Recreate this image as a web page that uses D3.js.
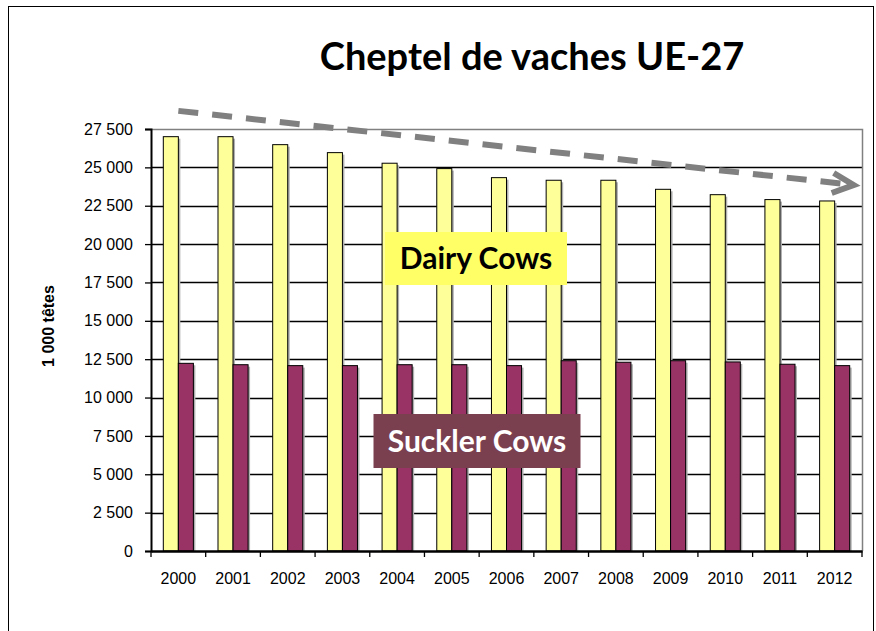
<!DOCTYPE html>
<html>
<head>
<meta charset="utf-8">
<script src="https://cdn.jsdelivr.net/npm/d3@7"></script>
<style>
  body { margin: 0; background: #fff; }
  svg { display: block; }
</style>
</head>
<body>
<svg id="chart" width="876" height="631"></svg>
<script>
// data (1 000 têtes)
var years = ["2000","2001","2002","2003","2004","2005","2006","2007","2008","2009","2010","2011","2012"];
var dairy = [27000, 27000, 26480, 25960, 25270, 24920, 24330, 24160, 24160, 23570, 23220, 22900, 22810];
var suckler = [12230, 12140, 12080, 12080, 12140, 12140, 12080, 12400, 12300, 12400, 12320, 12170, 12080];
var yTicks = d3.range(0, 27501, 2500);

var svg = d3.select("#chart");
var pLeft = 151, pRight = 862, pTop = 129, pBottom = 551;

var fr = d3.formatLocale({decimal: ",", thousands: " ", grouping: [3], currency: ["", " €"]});
var fmt = fr.format(",");

var x = d3.scaleBand().domain(years).range([pLeft, pRight]).paddingInner(0.45).paddingOuter(0.225);
var y = d3.scaleLinear().domain([0, 27500]).range([pBottom, pTop]);
var bw = x.bandwidth() / 2;

// outer frame
svg.append("rect")
    .attr("x", 8.5).attr("y", 6.5).attr("width", 865).attr("height", 640)
    .attr("fill", "#fff").attr("stroke", "#000").attr("stroke-width", 1);

// title
svg.append("text")
    .attr("x", 532).attr("y", 70)
    .attr("text-anchor", "middle")
    .attr("font-family", "Lato, 'Open Sans', sans-serif")
    .attr("font-weight", "bold")
    .attr("font-size", 38)
    .text("Cheptel de vaches UE-27");

// gridlines
svg.append("g").selectAll("line")
    .data(yTicks.slice(1, -1))
    .join("line")
    .attr("x1", pLeft).attr("x2", pRight)
    .attr("y1", function(d){ return Math.round(y(d)) + 0.5; })
    .attr("y2", function(d){ return Math.round(y(d)) + 0.5; })
    .attr("stroke", "#000").attr("stroke-width", 1.3);

// plot border (top/right gray)
svg.append("path")
    .attr("d", "M" + pLeft + "," + (pTop + 0.5) + "H" + (pRight + 0.5) + "V" + pBottom)
    .attr("fill", "none").attr("stroke", "#808080").attr("stroke-width", 1.5);

function drawBars(vals, fill, dx){
    var g = svg.append("g");
    // shadows
    g.selectAll("rect.sh")
        .data(vals)
        .join("rect")
        .attr("class", "sh")
        .attr("x", function(d, i){ return x(years[i]) + dx + 2; })
        .attr("y", function(d){ return y(d) + 2; })
        .attr("width", bw)
        .attr("height", function(d){ return pBottom - y(d) - 2; })
        .attr("fill", "#b0b0b0");
    g.selectAll("rect.bar")
        .data(vals)
        .join("rect")
        .attr("class", "bar")
        .attr("x", function(d, i){ return x(years[i]) + dx; })
        .attr("y", function(d){ return y(d); })
        .attr("width", bw)
        .attr("height", function(d){ return pBottom - y(d); })
        .attr("fill", fill)
        .attr("stroke", "#000").attr("stroke-width", 1);
}
drawBars(dairy, "#ffff99", 0);
drawBars(suckler, "#993366", bw);

// y axis
var yAxis = svg.append("g")
    .attr("transform", "translate(" + pLeft + ",0)")
    .call(d3.axisLeft(y).tickValues(yTicks).tickFormat(fmt).tickSize(6).tickPadding(12));
yAxis.select(".domain").attr("stroke", "#000").attr("stroke-width", 2);
yAxis.selectAll(".tick line").attr("stroke", "#000").attr("stroke-width", 1.3);
yAxis.selectAll("text")
    .attr("font-family", "Arial, 'Liberation Sans', sans-serif")
    .attr("font-size", 16).attr("fill", "#000");

// x axis
var xAxis = svg.append("g")
    .attr("transform", "translate(0," + pBottom + ")")
    .call(d3.axisBottom(x).tickSize(0).tickPadding(22));
xAxis.select(".domain").attr("stroke", "#000").attr("stroke-width", 2.5);
xAxis.selectAll("text")
    .attr("font-family", "Arial, 'Liberation Sans', sans-serif")
    .attr("font-size", 16).attr("fill", "#000");
// category boundary ticks
var step = x.step();
xAxis.append("g").selectAll("line")
    .data(d3.range(years.length + 1))
    .join("line")
    .attr("x1", function(i){ return pLeft + i * step; })
    .attr("x2", function(i){ return pLeft + i * step; })
    .attr("y1", 0).attr("y2", 6)
    .attr("stroke", "#000").attr("stroke-width", 1.3);

// y axis title
svg.append("text")
    .attr("transform", "translate(48,326) rotate(-90)")
    .attr("text-anchor", "middle")
    .attr("dy", "0.35em")
    .attr("font-family", "Arial, 'Liberation Sans', sans-serif")
    .attr("font-weight", "bold")
    .attr("font-size", 16)
    .text("1 000 têtes");

// trend arrow
var ax0 = x("2000") + bw, ay0 = y(28680);
var ax1 = x("2012") + x.bandwidth() + 4, ay1 = y(23850);
svg.append("line")
    .attr("x1", ax0).attr("y1", ay0).attr("x2", ax1 - 6).attr("y2", ay1 - 0.7)
    .attr("stroke", "#808080").attr("stroke-width", 6)
    .attr("stroke-dasharray", "20,14");
svg.append("path")
    .attr("d", "M" + (ax1 - 20) + "," + (ay1 - 12) + "L" + ax1 + "," + ay1 + "L" + (ax1 - 22) + "," + (ay1 + 8))
    .attr("fill", "none").attr("stroke", "#808080").attr("stroke-width", 6)
    .attr("stroke-linejoin", "miter");

// series labels
function label(txt, cx, yTop, w, h, bg, fg, size){
    svg.append("rect")
        .attr("x", cx - w / 2).attr("y", yTop).attr("width", w).attr("height", h)
        .attr("fill", bg);
    svg.append("text")
        .attr("x", cx).attr("y", yTop + h / 2)
        .attr("dy", "0.35em")
        .attr("text-anchor", "middle")
        .attr("font-family", "Lato, 'Open Sans', sans-serif")
        .attr("font-weight", "bold")
        .attr("font-size", size)
        .attr("fill", fg)
        .text(txt);
}
label("Dairy Cows", 476, 232, 182, 53, "#ffff66", "#000", 30);
label("Suckler Cows", 477, 414, 207, 54, "#7b4050", "#fff", 30);
</script>
</body>
</html>
